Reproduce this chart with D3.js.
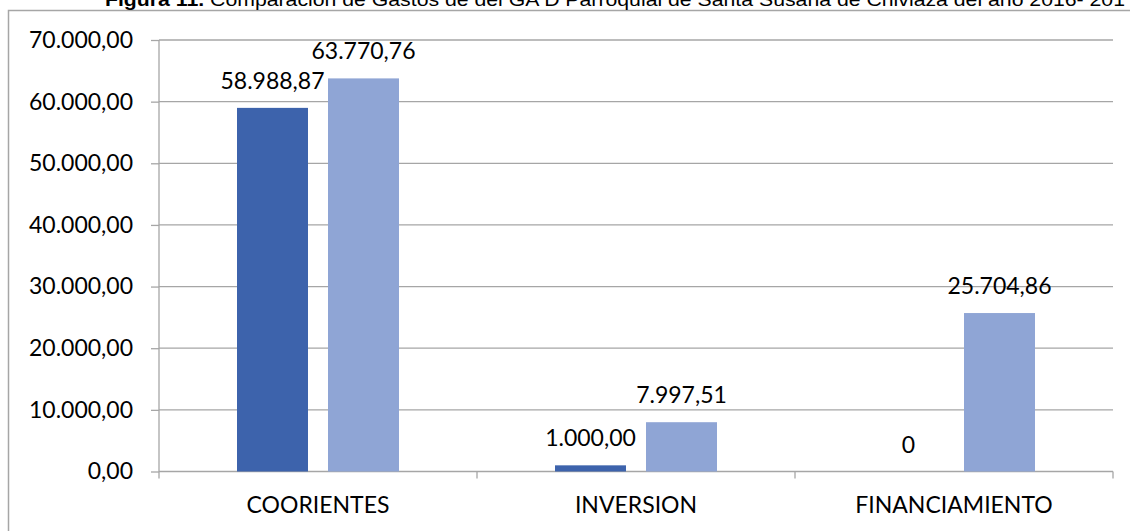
<!DOCTYPE html>
<html>
<head>
<meta charset="UTF-8">
<style>
  body { margin: 0; background: #fff; }
  svg { display: block; }
  .lbl { font-family: Lato, "Open Sans", sans-serif; font-size: 23px; fill: #000; }
</style>
</head>
<body>
<div id="chart"></div>
<script src="https://d3js.org/d3.v7.min.js"></script>
<script>
// Data
const categories = ["COORIENTES", "INVERSION", "FINANCIAMIENTO"];
const series = ["2016", "2017"];
const values2016 = [58988.87, 1000.00, 0];
const values2017 = [63770.76, 7997.51, 25704.86];
const yTicks = [0, 10000, 20000, 30000, 40000, 50000, 60000, 70000];
const colors = ["#3d63ac", "#8fa5d5"];

const W = 1130, H = 531;
const plot = { left: 159, right: 1113, top: 40, bottom: 471.5 };

const svg = d3.select("#chart").append("svg")
  .attr("width", W).attr("height", H);

// outer frame of the chart (cut by the page edge on right and bottom)
svg.append("rect")
  .attr("x", 8.5).attr("y", 10.5)
  .attr("width", 1300).attr("height", 700)
  .attr("fill", "none").attr("stroke", "#a6a6a6").attr("stroke-width", 1.5);

// title, cut by the top of the page like in the source
const title = svg.append("text")
  .attr("x", 105).attr("y", 6)
  .attr("textLength", 1020).attr("lengthAdjust", "spacingAndGlyphs")
  .style("font-family", "'Liberation Sans', Arial, sans-serif")
  .style("font-size", "18px");
title.append("tspan").style("font-weight", "bold").text("Figura  11.");
title.append("tspan").text("  Comparación de Gastos de del GA D Parroquial de Santa Susana de Chiviaza del año 2016- 201");

const locale = d3.formatLocale({ decimal: ",", thousands: ".", grouping: [3], currency: ["", ""] });
const fmt = locale.format(",.2f");
const fmtLabel = v => v === 0 ? "0" : fmt(v);

const y = d3.scaleLinear().domain([0, 70000]).range([plot.bottom, plot.top]);
const x0 = d3.scaleBand().domain(categories).range([plot.left, plot.right]);
const x1 = d3.scaleBand().domain(series).range([78, 240]).paddingInner(0.22);

// gridlines
svg.append("g").selectAll("line").data(yTicks).join("line")
  .attr("x1", plot.left).attr("x2", plot.right)
  .attr("y1", d => y(d)).attr("y2", d => y(d))
  .attr("stroke", "#a6a6a6").attr("stroke-width", 1.3);

// y axis
const yAxis = svg.append("g")
  .attr("transform", `translate(${plot.left},0)`)
  .call(d3.axisLeft(y).tickValues(yTicks).tickSize(8).tickPadding(18).tickFormat(fmt));
yAxis.select(".domain").attr("stroke", "#a6a6a6").attr("stroke-width", 1.3)
  .attr("d", `M0,${plot.top}V${plot.bottom + 7}`);
yAxis.selectAll(".tick line").attr("stroke", "#a6a6a6").attr("stroke-width", 1.3);
yAxis.selectAll(".tick text").attr("class", "lbl").attr("fill", "#000");

// x axis: tick marks at category boundaries
const xAxis = svg.append("g").attr("transform", `translate(0,${plot.bottom})`);
xAxis.selectAll("line").data(categories).join("line")
  .attr("x1", d => x0(d) + x0.bandwidth()).attr("x2", d => x0(d) + x0.bandwidth())
  .attr("y1", 0).attr("y2", 7)
  .attr("stroke", "#a6a6a6").attr("stroke-width", 1.3);
xAxis.selectAll("text").data(categories).join("text")
  .attr("class", "lbl")
  .attr("x", d => x0(d) + x0.bandwidth() / 2)
  .attr("y", 41)
  .attr("text-anchor", "middle")
  .text(d => d);

// bars
const rows = [];
categories.forEach((c, i) => {
  rows.push({ cat: c, s: series[0], v: values2016[i], color: colors[0] });
  rows.push({ cat: c, s: series[1], v: values2017[i], color: colors[1] });
});

svg.append("g").selectAll("rect").data(rows).join("rect")
  .attr("x", d => x0(d.cat) + x1(d.s))
  .attr("y", d => y(d.v))
  .attr("width", x1.bandwidth())
  .attr("height", d => y(0) - y(d.v))
  .attr("fill", d => d.color);

// value labels
svg.append("g").selectAll("text").data(rows).join("text")
  .attr("class", "lbl")
  .attr("x", d => x0(d.cat) + x1(d.s) + x1.bandwidth() / 2)
  .attr("y", d => y(d.v) - 19)
  .attr("text-anchor", "middle")
  .text(d => fmtLabel(d.v));
</script>
</body>
</html>
